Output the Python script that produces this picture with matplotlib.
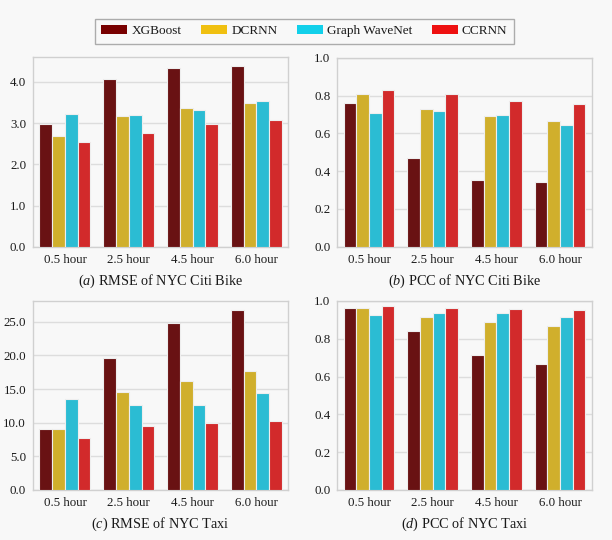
import matplotlib
matplotlib.use("Agg")
import matplotlib.pyplot as plt
from matplotlib import font_manager
from matplotlib.patches import Patch
import numpy as np

horizons = ["0.5 hour", "2.5 hour", "4.5 hour", "6.0 hour"]
models = ["XGBoost", "DCRNN", "Graph WaveNet", "CCRNN"]

# RMSE / PCC per model, one value per horizon
bike_rmse = {
    "XGBoost": [2.97, 4.07, 4.34, 4.39],
    "DCRNN": [2.68, 3.17, 3.38, 3.48],
    "Graph WaveNet": [3.23, 3.21, 3.33, 3.54],
    "CCRNN": [2.55, 2.76, 2.99, 3.07],
}
bike_pcc = {
    "XGBoost": [0.76, 0.47, 0.355, 0.345],
    "DCRNN": [0.81, 0.73, 0.69, 0.665],
    "Graph WaveNet": [0.71, 0.72, 0.695, 0.645],
    "CCRNN": [0.83, 0.81, 0.77, 0.755],
}
taxi_rmse = {
    "XGBoost": [9.1, 19.6, 24.9, 26.7],
    "DCRNN": [9.1, 14.5, 16.2, 17.7],
    "Graph WaveNet": [13.6, 12.6, 12.7, 14.4],
    "CCRNN": [7.7, 9.5, 9.9, 10.3],
}
taxi_pcc = {
    "XGBoost": [0.965, 0.84, 0.715, 0.665],
    "DCRNN": [0.965, 0.915, 0.89, 0.87],
    "Graph WaveNet": [0.925, 0.935, 0.935, 0.915],
    "CCRNN": [0.975, 0.965, 0.96, 0.955],
}

bar_colors = ["#691213", "#d0af2c", "#2bbcd3", "#d22a2b"]
legend_colors = ["#780000", "#f0c010", "#12d0ea", "#ee1010"]

# pick a Times-like face if it is there
names = {f.name for f in font_manager.fontManager.ttflist}
serif = "Liberation Serif" if "Liberation Serif" in names else "DejaVu Serif"
plt.rcParams["font.family"] = "serif"
plt.rcParams["font.serif"] = [serif, "DejaVu Serif"]
plt.rcParams["mathtext.fontset"] = "custom"
plt.rcParams["mathtext.it"] = serif + ":italic"
plt.rcParams["mathtext.rm"] = serif

bg = "#f8f8f8"
txt = "#1a1a1a"
fig = plt.figure(figsize=(6.12, 5.4), dpi=100, facecolor=bg)

panels = [
    (bike_rmse, [0.054, 0.543, 0.417, 0.351], (0, 4.6), [0, 1, 2, 3, 4], "a", "RMSE of NYC Citi Bike"),
    (bike_pcc, [0.551, 0.543, 0.416, 0.350], (0, 1.0), [0, 0.2, 0.4, 0.6, 0.8, 1.0], "b", "PCC of NYC Citi Bike"),
    (taxi_rmse, [0.054, 0.0926, 0.417, 0.350], (0, 28.1), [0, 5, 10, 15, 20, 25], "c", "RMSE of NYC Taxi"),
    (taxi_pcc, [0.551, 0.0926, 0.416, 0.350], (0, 1.0), [0, 0.2, 0.4, 0.6, 0.8, 1.0], "d", "PCC of NYC Taxi"),
]

x = np.arange(len(horizons))
w = 0.2
for data, rect, ylim, ticks, letter, caption in panels:
    ax = fig.add_axes(rect)
    ax.set_facecolor(bg)
    for i, m in enumerate(models):
        ax.bar(x + (i - 1.5) * w, data[m], width=w, color=bar_colors[i],
               edgecolor="#eeeeee", linewidth=0.8, zorder=3)
    ax.set_xlim(-0.5, 3.5)
    ax.set_ylim(*ylim)
    ax.set_yticks(ticks)
    ax.set_yticklabels([f"{t:.1f}" for t in ticks])
    ax.set_xticks(x)
    ax.set_xticklabels(horizons)
    ax.grid(axis="y", color="#dddddd", linewidth=1.0, zorder=0)
    for s in ax.spines.values():
        s.set_color("#d0d0d0")
        s.set_linewidth(1.0)
    ax.tick_params(axis="x", length=0, pad=5, labelsize=9.3, colors=txt)
    ax.tick_params(axis="y", length=0, pad=5, labelsize=9.3, colors=txt)
    ax.set_xlabel(f"$({letter})$ {caption}", fontsize=10.3, labelpad=5, color=txt)

handles = [Patch(facecolor=c, edgecolor="none") for c in legend_colors]
fig.legend(handles, models, loc="center", bbox_to_anchor=(0.4975, 0.942), ncol=4,
           frameon=True, fancybox=False, edgecolor="#999999", facecolor=bg,
           fontsize=9.5, handlelength=1.97, handleheight=0.6, columnspacing=1.5,
           handletextpad=0.3, borderpad=0.5, labelcolor=txt)

fig.savefig("out.png", dpi=100, facecolor=bg)
